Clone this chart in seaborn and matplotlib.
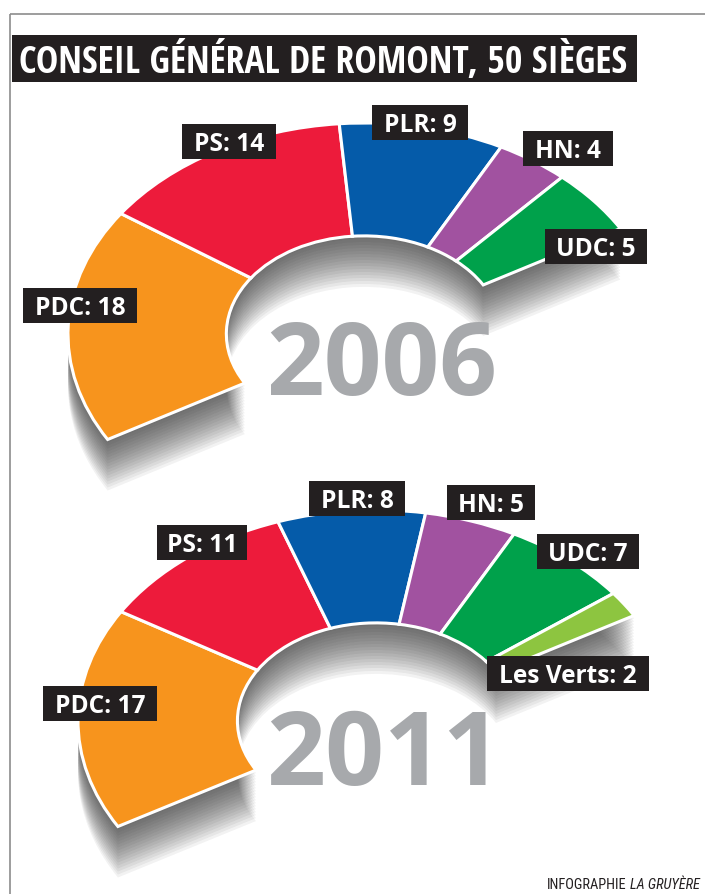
import os
import re
import numpy as np
import matplotlib
matplotlib.use("Agg")
import matplotlib.pyplot as plt
import seaborn as sns
from matplotlib import font_manager as fm
from matplotlib.patches import Wedge, Rectangle
from matplotlib.textpath import TextPath

# ---------------- data ----------------
title_text = "CONSEIL GÉNÉRAL DE ROMONT, 50 SIÈGES"
total_seats = 50
years = ["2006", "2011"]
parties_2006 = ["PDC", "PS", "PLR", "HN", "UDC"]
seats_2006 = [18, 14, 9, 4, 5]
parties_2011 = ["PDC", "PS", "PLR", "HN", "UDC", "Les Verts"]
seats_2011 = [17, 11, 8, 5, 7, 2]
credit_plain = "INFOGRAPHIE"
credit_italic = "LA GRUYÈRE"
party_names = ["PDC", "PS", "PLR", "HN", "UDC", "Les Verts"]
party_hex = ["#F7941D", "#ED1B3B", "#055BA9", "#A152A0", "#00A14B", "#8DC540"]

# ---------------- style / layout ----------------
sns.set_theme(style="white")
palette = dict(zip(party_names, sns.color_palette(party_hex)))

W, H, DPI = 705, 895, 100
DARK = "#231F20"
YEAR_GREY = "#A7A9AC"
FRAME = "#8C8C8C"
ARC_START, ARC_SPAN = 210.0, 180.0
INNER = 0.465

charts = [
    dict(year=years[0], parties=parties_2006, seats=seats_2006,
         center=(364, 335), radii=(296, 211), year_xy=(382, 358),
         labels={"PDC": (80, 306), "PS": (229, 142), "PLR": (420, 123),
                 "HN": (568, 149), "UDC": (596, 247)}),
    dict(year=years[1], parties=parties_2011, seats=seats_2011,
         center=(376, 722), radii=(298, 211), year_xy=(384, 747),
         labels={"PDC": (100, 704), "PS": (202, 543), "PLR": (357, 499),
                 "HN": (491, 503), "UDC": (588, 552), "Les Verts": (568, 674)}),
]


def find_font(patterns, fallback):
    files = sorted({f.fname for f in fm.fontManager.ttflist})
    for pat in patterns:
        for f in files:
            if re.search(pat, os.path.basename(f), re.I):
                return fm.FontProperties(fname=f)
    return fallback


cond_bold = find_font([r"^OpenSans[-_]?Cond(ensed)?[-_]?Bold\.", r"^NotoSans-CondensedBold\.",
                       r"^RobotoCondensed-Bold\.", r"^LiberationSansNarrow-Bold\.",
                       r"^DejaVuSansCondensed-Bold\."],
                      fm.FontProperties(family="DejaVu Sans", weight="bold"))
bold = find_font([r"^OpenSans-Bold\.", r"^NotoSans-Bold\.", r"^Lato-Bold\."],
                 fm.FontProperties(family="DejaVu Sans", weight="bold"))
regular = find_font([r"^NotoSans-SemiCondensed\.", r"^NotoSans-Condensed\.",
                     r"^RobotoCondensed-Regular\.", r"^LiberationSansNarrow-Regular\.",
                     r"^DejaVuSansCondensed\."],
                    fm.FontProperties(family="DejaVu Sans"))
italic = find_font([r"^NotoSans-SemiCondensedItalic\.", r"^NotoSans-CondensedItalic\.",
                    r"^RobotoCondensed-Italic\.", r"^LiberationSansNarrow-Italic\.",
                    r"^DejaVuSansCondensed-Oblique\."],
                   fm.FontProperties(family="DejaVu Sans", style="italic"))


def ink(text, prop):
    e = TextPath((0, 0), text, size=100, prop=prop).get_extents()
    return e.width / 100.0, e.height / 100.0


def sized(prop, px):
    p = prop.copy()
    p.set_size(px * 72.0 / DPI)
    return p


fig = plt.figure(figsize=(W / DPI, H / DPI), dpi=DPI)
fig.patch.set_facecolor("white")

# overlay axes in pixel coordinates (text, boxes, frame)
ov = fig.add_axes([0, 0, 1, 1], zorder=10)
ov.set_xlim(0, W)
ov.set_ylim(H, 0)
ov.set_axis_off()
ov.patch.set_alpha(0)

# frame
ov.plot([10, 10], [H, 15], color=FRAME, lw=1.2, solid_capstyle="butt")
ov.plot([10, W], [15, 15], color=FRAME, lw=1.2, solid_capstyle="butt")

# title
ov.add_patch(Rectangle((12, 36), 625, 47, fc=DARK, ec="none"))
tw, _ = ink(title_text, cond_bold)
title_px = 606 / tw
_, cap_t = ink("CONSEIL", cond_bold)
ov.text(19, 59.5 + cap_t * title_px / 2, title_text, color="white",
        fontproperties=sized(cond_bold, title_px), ha="left", va="baseline")

label_cap = 17.5
_, cap_l = ink("HPD", bold)
label_px = label_cap / cap_l
label_prop = sized(bold, label_px)

for ch in charts:
    cx, cy = ch["center"]
    A, B = ch["radii"]
    ax = fig.add_axes([0, 0, 1, 1], zorder=2)
    ax.set_xlim(-cx / A, (W - cx) / A)
    ax.set_ylim((cy - H) / B, cy / B)
    ax.set_axis_off()
    ax.patch.set_alpha(0)

    # soft drop shadow
    for k in np.arange(3, 52, 3):
        ax.add_patch(Wedge((0, -k / B), 1.0, ARC_START - ARC_SPAN, ARC_START,
                           width=1 - INNER, fc="#262626", ec="none", alpha=0.06, zorder=1))

    cum = np.concatenate([[0], np.cumsum(ch["seats"])])
    for i, p in enumerate(ch["parties"]):
        t2 = ARC_START - ARC_SPAN * cum[i] / total_seats
        t1 = ARC_START - ARC_SPAN * cum[i + 1] / total_seats
        ax.add_patch(Wedge((0, 0), 1.0, t1, t2, width=1 - INNER, fc=palette[p],
                           ec="white", lw=2.2, joinstyle="miter", zorder=3))

    # year
    yw, yh = ink(ch["year"], bold)
    year_h = 76.0
    year_px = min(year_h / yh, 224.0 / yw)
    yx, yy = ch["year_xy"]
    ov.text(yx, yy + yh * year_px / 2, ch["year"], color=YEAR_GREY,
            fontproperties=sized(bold, year_px), ha="center", va="baseline")

    # labels
    for p, n in zip(ch["parties"], ch["seats"]):
        s = f"{p}: {n}"
        lx, ly = ch["labels"][p]
        w, _ = ink(s, bold)
        bw = w * label_px + 26
        ov.add_patch(Rectangle((lx - bw / 2, ly - 17.5), bw, 35, fc=DARK, ec="none"))
        ov.text(lx, ly + label_cap / 2, s, color="white", fontproperties=label_prop,
                ha="center", va="baseline")

# credit
foot_cap = 10.5
_, cap_f = ink("INFOGRAPHIE", regular)
foot_px = foot_cap / cap_f
t_it = ov.text(700, 889, credit_italic, color=DARK, fontproperties=sized(italic, foot_px),
               ha="right", va="baseline")
fig.canvas.draw()
bb = t_it.get_window_extent(renderer=fig.canvas.get_renderer())
x_left = ov.transData.inverted().transform((bb.x0, bb.y0))[0]
ov.text(x_left - 4, 889, credit_plain, color=DARK, fontproperties=sized(regular, foot_px),
        ha="right", va="baseline")

fig.savefig("out.png", dpi=DPI, facecolor="white")
